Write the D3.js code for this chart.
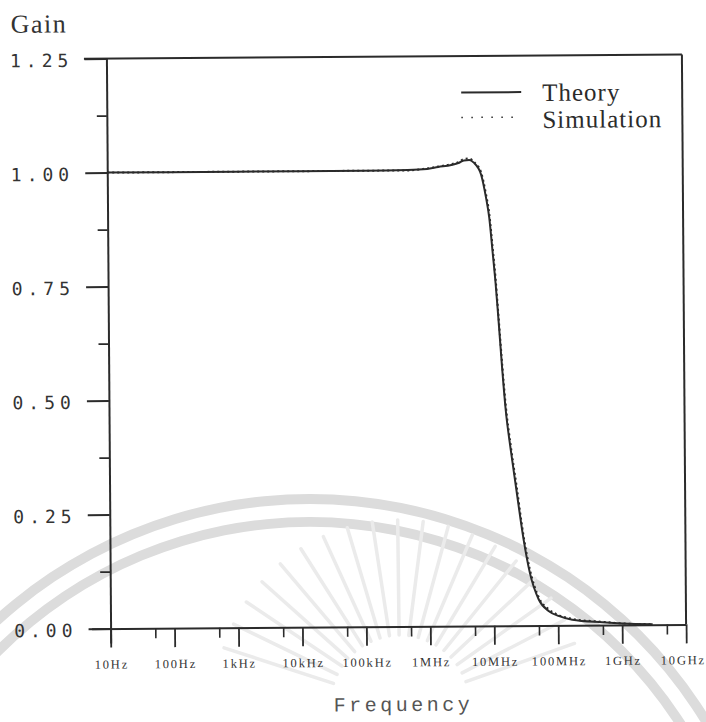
<!DOCTYPE html>
<html>
<head>
<meta charset="utf-8">
<script src="https://cdn.jsdelivr.net/npm/d3@7"></script>
<style>
  html, body { margin: 0; padding: 0; background: #fff; }
  svg { display: block; }
</style>
</head>
<body>
<script>
// Frequency response data (gain vs frequency in Hz)
const frequencies = [10, 1e3, 1e5, 5e5, 1e6, 1.5e6, 2.4e6, 3.2e6, 3.8e6, 4.6e6, 5.4e6, 7e6, 8.3e6, 9.3e6,
  1.04e7, 1.15e7, 1.25e7, 1.43e7, 1.6e7, 1.9e7, 2.3e7, 2.95e7, 3.65e7, 5e7, 7.2e7, 1.04e8, 1.66e8, 4.9e8, 1.04e9, 3e9];
const theoryGain = [1.0, 1.0, 1.0, 1.001, 1.003, 1.007, 1.011, 1.016, 1.021, 1.022, 1.016, 0.99, 0.94, 0.895,
  0.82, 0.75, 0.68, 0.56, 0.473, 0.385, 0.298, 0.188, 0.116, 0.057, 0.031, 0.02, 0.012, 0.006, 0.003, 0.001];
const simulationGain = [1.0, 1.0, 1.0, 1.0, 1.004, 1.008, 1.013, 1.018, 1.024, 1.025, 1.018, 0.995, 0.948, 0.905,
  0.832, 0.762, 0.69, 0.572, 0.485, 0.395, 0.31, 0.196, 0.124, 0.062, 0.035, 0.022, 0.014, 0.007, 0.003, 0.001];

const xTickValues = [10, 100, 1e3, 1e4, 1e5, 1e6, 1e7, 1e8, 1e9, 1e10];
const xTickLabels = ["10Hz", "100Hz", "1kHz", "10kHz", "100kHz", "1MHz", "10MHz", "100MHz", "1GHz", "10GHz"];
const xMinorTicks = [50, 500, 5e3, 5e4, 5e5, 5e6, 5e7, 5e8, 5e9];
const yTickValues = [0, 0.25, 0.5, 0.75, 1.0, 1.25];
const yTickLabels = ["0.00", "0.25", "0.50", "0.75", "1.00", "1.25"];
const yMinorTicks = [0.125, 0.375, 0.625, 0.875, 1.125];
const seriesNames = ["Theory", "Simulation"];

const W = 706, H = 722;
const plotLeft = 108.5, plotRight = 684, plotTop = 56.5, plotBottom = 626.5;
const ink = "#2b2b2b";

const svg = d3.select("body").append("svg").attr("width", W).attr("height", H);

// faint seal in the background
const seal = svg.append("g").attr("fill", "none");
const arc = d3.arc();
[[459, 469], [436, 446]].forEach(([r0, r1]) => {
  seal.append("path")
    .attr("transform", "translate(310,963)")
    .attr("d", arc({innerRadius: r0, outerRadius: r1, startAngle: -Math.PI / 2, endAngle: Math.PI / 2}))
    .attr("fill", "#dcdcdc");
});
d3.range(19).forEach(i => {
  const a = Math.PI * (1.1 + i * 0.044);
  const cx = 400, cy = 705, r0 = 70, r1 = 185;
  seal.append("line")
    .attr("x1", cx + r0 * Math.cos(a)).attr("y1", cy + r0 * Math.sin(a))
    .attr("x2", cx + r1 * Math.cos(a)).attr("y2", cy + r1 * Math.sin(a))
    .attr("stroke", "#ebebeb").attr("stroke-width", 3.5).attr("stroke-linecap", "round");
});

const g = svg.append("g").attr("transform", "rotate(-0.42 396 342)");

const x = d3.scaleLog().domain([10, 1e10]).range([plotLeft, plotRight]);
const y = d3.scaleLinear().domain([0, 1.25]).range([plotBottom, plotTop]);

// frame: top and right borders
g.append("line").attr("x1", 86).attr("x2", plotRight).attr("y1", plotTop).attr("y2", plotTop)
  .attr("stroke", ink).attr("stroke-width", 2);
g.append("line").attr("x1", plotRight).attr("x2", plotRight).attr("y1", plotTop).attr("y2", plotBottom)
  .attr("stroke", ink).attr("stroke-width", 2);

// x axis
const xAxis = g.append("g").attr("transform", `translate(0,${plotBottom})`)
  .call(d3.axisBottom(x).tickValues(xTickValues).tickSize(19).tickSizeOuter(0).tickFormat(""));
xAxis.select(".domain").attr("d", `M${90},0.5H${plotRight}`).attr("stroke", ink).attr("stroke-width", 2);
xAxis.selectAll(".tick line").attr("stroke", ink).attr("stroke-width", 1.8);
const xMinor = g.append("g").attr("transform", `translate(0,${plotBottom})`)
  .call(d3.axisBottom(x).tickValues(xMinorTicks).tickSize(10).tickSizeOuter(0).tickFormat(""));
xMinor.select(".domain").remove();
xMinor.selectAll(".tick line").attr("stroke", ink).attr("stroke-width", 1.6);
g.append("g").selectAll("text").data(xTickValues).join("text")
  .attr("x", (d, i) => x(d) + (i === xTickValues.length - 1 ? -3 : 1)).attr("y", plotBottom + 40)
  .attr("text-anchor", "middle")
  .attr("font-family", "Liberation Serif, serif").attr("font-size", 12.5)
  .attr("letter-spacing", 1.8).attr("fill", "#333")
  .text((d, i) => xTickLabels[i]);

// y axis
const yAxis = g.append("g").attr("transform", `translate(${plotLeft},0)`)
  .call(d3.axisLeft(y).tickValues(yTickValues).tickSize(22).tickSizeOuter(0).tickFormat(""));
yAxis.select(".domain").attr("d", `M0.5,${plotTop}V${plotBottom + 15}`).attr("stroke", ink).attr("stroke-width", 2);
yAxis.selectAll(".tick line").attr("stroke", ink).attr("stroke-width", 2);
const yMinor = g.append("g").attr("transform", `translate(${plotLeft},0)`)
  .call(d3.axisLeft(y).tickValues(yMinorTicks).tickSize(10).tickSizeOuter(0).tickFormat(""));
yMinor.select(".domain").remove();
yMinor.selectAll(".tick line").attr("stroke", ink).attr("stroke-width", 1.8);
g.append("g").selectAll("text").data(yTickValues).join("text")
  .attr("x", 12).attr("y", d => y(d) + 8)
  .attr("font-family", "DejaVu Sans Mono, monospace").attr("font-size", 18)
  .attr("letter-spacing", 5).attr("fill", "#333")
  .text((d, i) => yTickLabels[i]);

// axis titles
g.append("text").attr("x", 13).attr("y", 30)
  .attr("font-family", "Liberation Serif, serif").attr("font-size", 26)
  .attr("letter-spacing", 1.5).attr("fill", "#333").text("Gain");
g.append("text").attr("x", 331).attr("y", 711)
  .attr("font-family", "Liberation Mono, monospace").attr("font-size", 20)
  .attr("letter-spacing", 3.5).attr("fill", "#555").text("Frequency");

// curves
const line = d3.line().curve(d3.curveMonotoneX);
const theoryPts = frequencies.map((f, i) => [x(f), y(theoryGain[i])]);
const simPts = frequencies.map((f, i) => [x(f), y(simulationGain[i])]);
g.append("path").attr("d", line(theoryPts)).attr("fill", "none")
  .attr("stroke", ink).attr("stroke-width", 2);
g.append("path").attr("d", line(simPts)).attr("fill", "none")
  .attr("stroke", ink).attr("stroke-width", 2).attr("stroke-dasharray", "2,3");

// legend
const legend = g.append("g");
legend.append("line").attr("x1", 463).attr("x2", 523).attr("y1", 93).attr("y2", 93)
  .attr("stroke", ink).attr("stroke-width", 2);
legend.append("line").attr("x1", 463).attr("x2", 523).attr("y1", 118).attr("y2", 118)
  .attr("stroke", ink).attr("stroke-width", 1.5).attr("stroke-dasharray", "1.5,8.5");
legend.selectAll("text").data(seriesNames).join("text")
  .attr("x", 544).attr("y", (d, i) => 102 + i * 27)
  .attr("font-family", "Liberation Serif, serif").attr("font-size", 25)
  .attr("letter-spacing", 1).attr("fill", "#2b2b2b").text(d => d);
</script>
</body>
</html>
